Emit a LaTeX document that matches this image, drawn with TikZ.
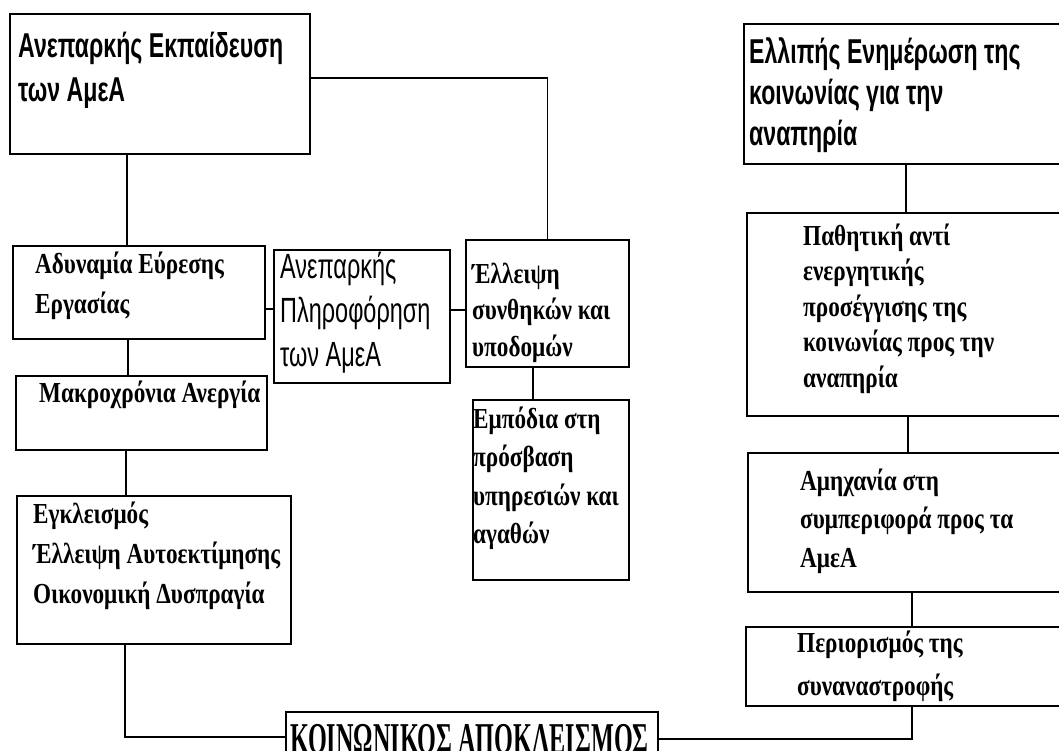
\documentclass[tikz,border=0pt]{standalone}
\usepackage{fontspec}
\newfontfamily\sfB[FakeStretch=0.67]{Liberation Sans Bold}
\newfontfamily\sfR[FakeStretch=0.67]{Liberation Sans}
\newfontfamily\rmB[FakeStretch=0.8]{Liberation Serif Bold}
\newfontfamily\rmK[FakeStretch=0.55]{Liberation Serif Bold}
\begin{document}
\begin{tikzpicture}[x=1pt,y=-1pt,
  box/.style={draw=black,line width=1.7pt,inner sep=0pt,anchor=north west,fill=white},
  conn/.style={draw=black,line width=1.6pt},
  txt/.style={anchor=base west,inner sep=0pt,align=left,text=black},
  hsans/.style={txt,font={\sfB\fontsize{34.5}{#1}\selectfont}},
  hsans/.default=44,
  rsans/.style={txt,font={\sfR\fontsize{35}{44}\selectfont}},
  serif/.style={txt,font={\rmB\fontsize{29}{#1}\selectfont}},
  serif/.default=40]
\useasboundingbox (0,0) rectangle (1059,751);
\clip (0,0) rectangle (1059,751);
\fill[white] (0,0) rectangle (1059,751);
% boxes
\node[box,minimum width=300pt,minimum height=140pt] (A) at (9,13) {};
\node[box,minimum width=327pt,minimum height=140pt] (B) at (743,23) {};
\node[box,minimum width=324pt,minimum height=203pt] (C) at (746,212) {};
\node[box,minimum width=323pt,minimum height=139pt] (D) at (747,452) {};
\node[box,minimum width=325pt,minimum height=79pt] (E) at (745,626) {};
\node[box,minimum width=252pt,minimum height=93pt] (ad) at (12,245) {};
\node[box,minimum width=176pt,minimum height=133pt] (pl) at (273,249) {};
\node[box,minimum width=163pt,minimum height=127pt] (el) at (465,239) {};
\node[box,minimum width=156pt,minimum height=180pt] (em) at (472,399) {};
\node[box,minimum width=251pt,minimum height=74pt] (mk) at (15,375) {};
\node[box,minimum width=274pt,minimum height=148pt] (eg) at (16,495) {};
\node[box,minimum width=372pt,minimum height=59pt] (ko) at (285,711) {};
% connectors
\draw[conn] (A.east |- {(0,78)}) -| (el.north);
\draw[conn] ([xshift=118pt]A.south west) -- ([xshift=118pt]A.south west |- ad.north);
\draw[conn] (ad.east |- {(0,309)}) -- (pl.west |- {(0,309)});
\draw[conn] (pl.east |- {(0,310)}) -- (el.west |- {(0,310)});
\draw[conn] ([xshift=116pt]ad.south west) -- ([xshift=116pt]ad.south west |- mk.north);
\draw[conn] ([xshift=68pt]el.south west) -- ([xshift=68pt]el.south west |- em.north);
\draw[conn] ([xshift=111pt]mk.south west) -- ([xshift=111pt]mk.south west |- eg.north);
\draw[conn] ([xshift=109pt]eg.south west) |- (ko.west |- {(0,737)});
\draw[conn] ([xshift=167pt]E.south west) |- (ko.east |- {(0,739)});
\draw[conn] ([xshift=163pt]B.south west) -- ([xshift=163pt]B.south west |- C.north);
\draw[conn] ([xshift=162pt]C.south west) -- ([xshift=162pt]C.south west |- D.north);
\draw[conn] ([xshift=165pt]D.south west) -- ([xshift=165pt]D.south west |- E.north);
% texts (anchored at the baseline of the last line)
\node[hsans=44] (At) at (18,102) {Ανεπαρκής Εκπαίδευση\\των ΑμεΑ};
\node[hsans=41] (Bt) at (749,146) {Ελλιπής Ενημέρωση της\\κοινωνίας για την\\αναπηρία};
\node[serif=35.5] (Ct) at (803,387) {Παθητική αντί\\ενεργητικής\\προσέγγισης της\\κοινωνίας προς την\\αναπηρία};
\node[serif=38.5] (Dt) at (800,567) {Αμηχανία στη\\συμπεριφορά προς τα\\ΑμεΑ};
\node[serif=43] (Et) at (797,695) {Περιορισμός της\\συναναστροφής};
\node[serif=40] (adt) at (35,313) {Αδυναμία Εύρεσης\\Εργασίας};
\node[rsans] (plt) at (280,366) {Ανεπαρκής\\Πληροφόρηση\\των ΑμεΑ};
\node[serif=36.5] (elt) at (472,356) {Έλλειψη\\συνθηκών και\\υποδομών};
\node[serif=38.5] (emt) at (473,543.5) {Εμπόδια στη\\πρόσβαση\\υπηρεσιών και\\αγαθών};
\node[serif] (mkt) at (39,402) {Μακροχρόνια Ανεργία};
\node[serif=40] (egt) at (33,603) {Εγκλεισμός\\Έλλειψη Αυτοεκτίμησης\\Οικονομική Δυσπραγία};
\node[txt,font={\rmK\fontsize{44}{44}\selectfont}] (kot) at (290,753) {ΚΟΙΝΩΝΙΚΟΣ ΑΠΟΚΛΕΙΣΜΟΣ};
\end{tikzpicture}
\end{document}
